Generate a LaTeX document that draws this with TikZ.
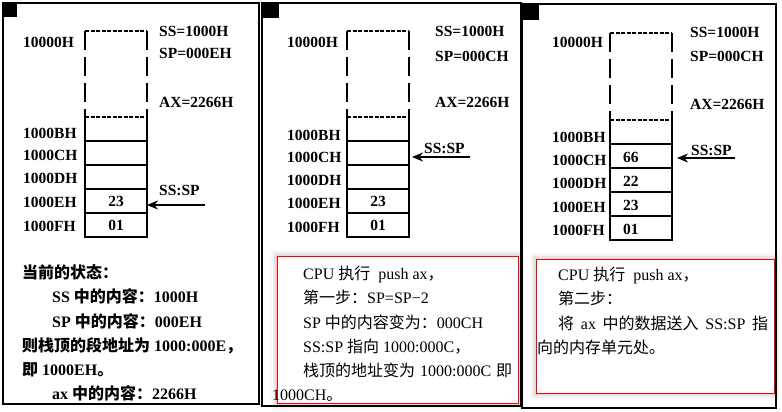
\documentclass[tikz,border=0pt]{standalone}
\usepackage{fontspec}
\setmainfont{Liberation Serif}
\newfontfamily\cjk{Noto Sans CJK SC}
\usetikzlibrary{arrows.meta}
\tikzset{
  panel/.style={draw=black, line width=1.3pt},
  cell/.style={minimum width=62pt, minimum height=24pt, inner sep=0pt, outer sep=0pt},
  stackline/.style={line width=1.4pt},
  sideline/.style={line width=1.4pt, dash pattern=on 19pt off 7pt},
  topline/.style={line width=1.4pt, dash pattern=on 4pt off 1.5pt},
  lbl/.style={anchor=west, inner sep=0pt, text height=10pt, text depth=0pt, font=\fontsize{15.5}{18}\selectfont\bfseries},
  val/.style={inner sep=0pt, text height=10pt, text depth=0pt, font=\fontsize{15.5}{18}\selectfont\bfseries},
  txt/.style={anchor=west, inner sep=0pt, text height=10pt, text depth=0pt, font=\fontsize{16}{18}\selectfont},
  btxt/.style={anchor=west, inner sep=0pt, text height=10pt, text depth=0pt, font=\fontsize{16}{18}\selectfont\bfseries},
  ptr/.style={line width=2.2pt, -{Stealth[length=11pt,width=9pt]}},
  redbox/.style={draw=red, line width=0.9pt, fill=white},
}
\newcommand\mkstack[4]{%
  \node[cell] (#1b) at (#2,#3+12) {};
  \node[cell] (#1c) at (#2,#3+36) {};
  \node[cell] (#1d) at (#2,#3+60) {};
  \node[cell] (#1e) at (#2,#3+84) {};
  \node[cell] (#1f) at (#2,#3+108) {};
  \coordinate (#1tl) at (#2-31,#4);
  \coordinate (#1tr) at (#2+31,#4);
  \draw[stackline] (#1b.north west) -- (#1f.south west) -- (#1f.south east) -- (#1b.north east);
  \draw[stackline] (#1b.south west) -- (#1b.south east);
  \draw[stackline] (#1c.south west) -- (#1c.south east);
  \draw[stackline] (#1d.south west) -- (#1d.south east);
  \draw[stackline] (#1e.south west) -- (#1e.south east);
  \draw[topline] (#1b.north west) -- (#1b.north east);
  \draw[sideline] (#1tl) -- (#1b.north west);
  \draw[sideline] (#1tr) -- (#1b.north east);
  \draw[topline] (#1tl) -- (#1tr);
}
\begin{document}
\begin{tikzpicture}[x=1pt,y=-1pt]
\useasboundingbox (0,0) rectangle (782,412);
\fill[white] (0,0) rectangle (782,412);

% red boxes with soft shadow
\foreach \w/\o in {12/0.025,9/0.03,6/0.04,3/0.05}{
  \draw[black, opacity=\o, line width=\w pt] (277,256) rectangle (518,403);
  \draw[black, opacity=\o, line width=\w pt] (536,259) rectangle (774,393);
}
\draw[redbox] (277,256) rectangle (518,403);
\draw[redbox] (536,259) rectangle (774,393);

% panels
\draw[panel] (3,3) rectangle (259,404);
\draw[panel] (262,3) rectangle (521,406);
\draw[panel] (522,4) rectangle (776,408);
\fill (3,3) rectangle (17,17);
\fill (261,3) rectangle (279,18);
\fill (521,3) rectangle (539,20);

% ---------- panel 1 ----------
\mkstack{p1}{116}{117}{31}
\node[lbl] (p1l0) at (23,43) {10000H};
\node[lbl] (p1lb) at (23,133) {1000BH};
\node[lbl] (p1lc) at (23,155) {1000CH};
\node[lbl] (p1ld) at (23,178) {1000DH};
\node[lbl] (p1le) at (23,202) {1000EH};
\node[lbl] (p1lf) at (23,226) {1000FH};
\node[val] (p1ve) at (p1e) {23};
\node[val] (p1vf) at (p1f) {01};
\node[lbl] (p1ss) at (159,32) {SS=1000H};
\node[lbl] (p1sp) at (159,54) {SP=000EH};
\node[lbl] (p1ax) at (159,102) {AX=2266H};
\node[lbl] (p1ptr) at (159,190) {SS:SP};
\coordinate (p1tail) at (205,205);
\draw[ptr] (p1tail) -- (p1e.east |- p1tail);

\node[btxt] (t1a) at (22,273) {{\cjk 当前的状态：}};
\node[btxt] (t1b) at (52,297) {SS {\cjk 中的内容：}1000H};
\node[btxt] (t1c) at (52,322) {SP {\cjk 中的内容：}000EH};
\node[btxt] (t1d) at (22,346) {{\cjk 则栈顶的段地址为}\ 1000:000E{\cjk ，}};
\node[btxt] (t1e) at (22,370) {{\cjk 即} 1000EH{\cjk 。}};
\node[btxt] (t1f) at (52,394) {ax {\cjk 中的内容：}2266H};

% ---------- panel 2 ----------
\mkstack{p2}{378}{117}{31}
\node[lbl] (p2l0) at (287,43) {10000H};
\node[lbl] (p2lb) at (287,135) {1000BH};
\node[lbl] (p2lc) at (287,157) {1000CH};
\node[lbl] (p2ld) at (287,180) {1000DH};
\node[lbl] (p2le) at (287,203) {1000EH};
\node[lbl] (p2lf) at (287,227) {1000FH};
\node[val] (p2ve) at (p2e) {23};
\node[val] (p2vf) at (p2f) {01};
\node[lbl] (p2ss) at (435,32) {SS=1000H};
\node[lbl] (p2sp) at (435,57) {SP=000CH};
\node[lbl] (p2ax) at (435,102) {AX=2266H};
\node[lbl] (p2ptr) at (424,148) {SS:SP};
\coordinate (p2tail) at (470,157);
\draw[ptr, shorten >=3pt] (p2tail) -- (p2c.east |- p2tail);

\node[txt] (t2a) at (303,274) {CPU {\cjk 执行}\ \ push ax{\cjk ，}};
\node[txt] (t2b) at (303,298) {{\cjk 第一步：}SP=SP−2};
\node[txt] (t2c) at (303,323) {SP {\cjk 中的内容变为：}000CH};
\node[txt] (t2d) at (303,347) {SS:SP {\cjk 指向} 1000:000C{\cjk ，}};
\node[txt] (t2e) at (303,371) {\makebox[209pt][s]{{\cjk 栈顶的地址变为} 1000:000C {\cjk 即}}};
\node[txt] (t2f) at (272,395) {1000CH{\cjk 。}};

% ---------- panel 3 ----------
\mkstack{p3}{641}{120}{33}
\node[lbl] (p3l0) at (552,43) {10000H};
\node[lbl] (p3lb) at (552,137) {1000BH};
\node[lbl] (p3lc) at (552,160) {1000CH};
\node[lbl] (p3ld) at (552,183) {1000DH};
\node[lbl] (p3le) at (552,207) {1000EH};
\node[lbl] (p3lf) at (552,230) {1000FH};
\node[val, anchor=west] (p3vc) at (623,157) {66};
\node[val, anchor=west] (p3vd) at (623,181) {22};
\node[val, anchor=west] (p3ve) at (623,205) {23};
\node[val, anchor=west] (p3vf) at (623,229) {01};
\node[lbl] (p3ss) at (690,33) {SS=1000H};
\node[lbl] (p3sp) at (690,57) {SP=000CH};
\node[lbl] (p3ax) at (690,105) {AX=2266H};
\node[lbl] (p3ptr) at (691,150) {SS:SP};
\coordinate (p3tail) at (735,158);
\draw[ptr, shorten >=5pt] (p3tail) -- (p3c.east |- p3tail);

\node[txt] (t3a) at (558,275) {CPU {\cjk 执行}\ \ push ax{\cjk ，}};
\node[txt] (t3b) at (558,299) {{\cjk 第二步：}};
\node[txt] (t3c) at (558,324) {\makebox[210pt][s]{{\cjk 将} ax {\cjk 中的数据送入} SS:SP {\cjk 指}}};
\node[txt] (t3d) at (537,348) {{\cjk 向的内存单元处。}};
\end{tikzpicture}
\end{document}
